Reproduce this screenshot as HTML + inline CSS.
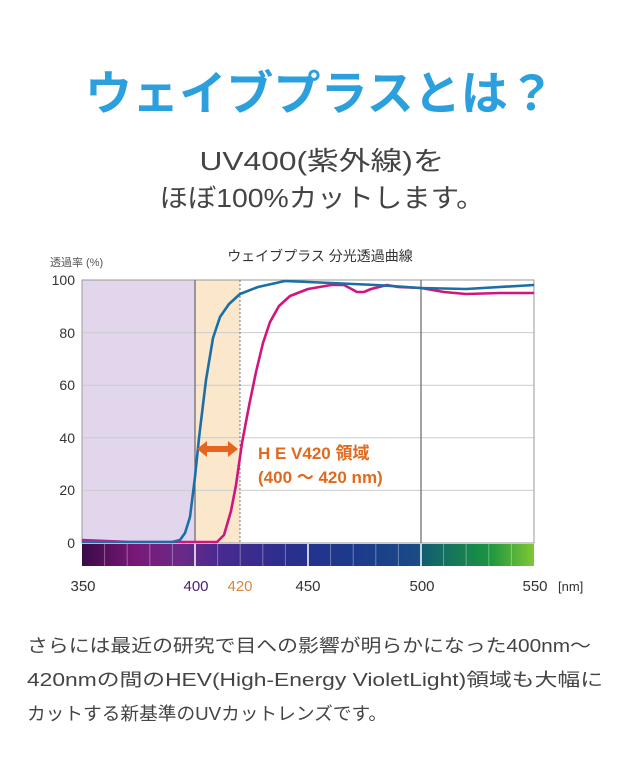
<!DOCTYPE html>
<html><head><meta charset="utf-8"><style>
html,body{margin:0;padding:0;background:#fff;}
svg{display:block;}
text{font-family:"Liberation Sans","Noto Sans CJK JP",sans-serif;}
</style></head><body>
<svg width="640" height="778" viewBox="0 0 640 778" xmlns="http://www.w3.org/2000/svg">
<defs>
<linearGradient id="spec" x1="0" x2="1" y1="0" y2="0">
<stop offset="0" stop-color="#3a0a48"/>
<stop offset="0.12" stop-color="#7a1878"/>
<stop offset="0.22" stop-color="#6a2a88"/>
<stop offset="0.3" stop-color="#4a2a90"/>
<stop offset="0.45" stop-color="#2a2e8e"/>
<stop offset="0.6" stop-color="#1c3a8c"/>
<stop offset="0.74" stop-color="#1a4a86"/>
<stop offset="0.76" stop-color="#12606e"/>
<stop offset="0.9" stop-color="#1a9440"/>
<stop offset="1" stop-color="#80c834"/>
</linearGradient>
</defs>
<text x="320" y="110" text-anchor="middle" font-size="47" font-weight="bold" fill="#2ba0dc" textLength="470" lengthAdjust="spacingAndGlyphs">ウェイブプラスとは？</text>
<text x="322" y="170" text-anchor="middle" font-size="26" fill="#444" textLength="245" lengthAdjust="spacingAndGlyphs">UV400(紫外線)を</text>
<text x="322" y="207" text-anchor="middle" font-size="26" fill="#444" textLength="325" lengthAdjust="spacingAndGlyphs">ほぼ100%カットします。</text>

<text x="320" y="261" text-anchor="middle" font-size="14" fill="#333">ウェイブプラス 分光透過曲線</text>
<text x="50" y="266" font-size="11" fill="#555">透過率 (%)</text>

<rect x="82" y="280" width="113" height="263" fill="#e2d6ec"/>
<rect x="195" y="280" width="45" height="263" fill="#fbe7cb"/>
<g stroke="#ccc" stroke-width="1">
<line x1="82" y1="332.6" x2="534" y2="332.6"/>
<line x1="82" y1="385.2" x2="534" y2="385.2"/>
<line x1="82" y1="437.8" x2="534" y2="437.8"/>
<line x1="82" y1="490.4" x2="534" y2="490.4"/>
</g>
<rect x="82" y="280" width="452" height="263" fill="none" stroke="#999" stroke-width="1"/>
<line x1="195" y1="280" x2="195" y2="543" stroke="#666" stroke-width="1.2"/>
<line x1="421" y1="280" x2="421" y2="543" stroke="#666" stroke-width="1.2"/>
<line x1="240" y1="280" x2="240" y2="543" stroke="#777" stroke-width="1" stroke-dasharray="2,2"/>

<g font-size="14" fill="#333" text-anchor="end">
<text x="75" y="285">100</text><text x="75" y="338">80</text><text x="75" y="390">60</text>
<text x="75" y="443">40</text><text x="75" y="495">20</text><text x="75" y="548">0</text>
</g>

<polyline fill="none" stroke="#d0167e" stroke-width="2.6" stroke-linejoin="round" points="82,540 130,542 217,542 224,535 231,511 236,485 242,443 249,406 256,372 263,343 270,322 279,306 290,296 308,289 331,285 344,285 357,292 364,292 371,289 387,285 398,287 421,288 444,292 466,294 500,293 534,293"/>
<polyline fill="none" stroke="#1a6fa6" stroke-width="2.6" stroke-linejoin="round" points="82,542 172,542 180,540 185,533 190,517 195,477 199,438 206,380 213,338 220,317 229,304 240,294 258,287 285,281 331,283 376,285 421,288 466,289 534,285"/>

<path d="M197,449 L207,441 L207,446 L228,446 L228,441 L238,449 L228,457 L228,452 L207,452 L207,457 Z" fill="#e5641e"/>
<text x="258" y="459" font-size="17" font-weight="bold" fill="#e06a1e">H E V420 領域</text>
<text x="258" y="483" font-size="17" font-weight="bold" fill="#e06a1e">(400 ～ 420 nm)</text>

<rect x="82" y="544" width="452" height="22" fill="url(#spec)"/>
<g stroke="#ffffff" stroke-opacity="0.35" stroke-width="1">
<line x1="104.6" y1="544" x2="104.6" y2="566"/><line x1="127.2" y1="544" x2="127.2" y2="566"/><line x1="149.8" y1="544" x2="149.8" y2="566"/><line x1="172.4" y1="544" x2="172.4" y2="566"/><line x1="217.6" y1="544" x2="217.6" y2="566"/><line x1="240.2" y1="544" x2="240.2" y2="566"/><line x1="262.8" y1="544" x2="262.8" y2="566"/><line x1="285.4" y1="544" x2="285.4" y2="566"/><line x1="330.6" y1="544" x2="330.6" y2="566"/><line x1="353.2" y1="544" x2="353.2" y2="566"/><line x1="375.8" y1="544" x2="375.8" y2="566"/><line x1="398.4" y1="544" x2="398.4" y2="566"/><line x1="443.6" y1="544" x2="443.6" y2="566"/><line x1="466.2" y1="544" x2="466.2" y2="566"/><line x1="488.8" y1="544" x2="488.8" y2="566"/><line x1="511.4" y1="544" x2="511.4" y2="566"/>
</g>
<g stroke="#ffffff" stroke-width="1.5">
<line x1="195" y1="544" x2="195" y2="566"/><line x1="308" y1="544" x2="308" y2="566"/><line x1="421" y1="544" x2="421" y2="566"/>
</g>

<g font-size="15" text-anchor="middle">
<text x="83" y="591" fill="#333">350</text>
<text x="196" y="591" fill="#4a1f6e">400</text>
<text x="240" y="591" fill="#d4883c">420</text>
<text x="308" y="591" fill="#333">450</text>
<text x="422" y="591" fill="#333">500</text>
<text x="535" y="591" fill="#333">550</text>
</g>
<text x="558" y="591" font-size="13" fill="#333">[nm]</text>

<g font-size="18" fill="#444">
<text x="27" y="652" textLength="564" lengthAdjust="spacingAndGlyphs">さらには最近の研究で目への影響が明らかになった400nm～</text>
<text x="27" y="686" textLength="576" lengthAdjust="spacingAndGlyphs">420nmの間のHEV(High-Energy VioletLight)領域も大幅に</text>
<text x="27" y="720" textLength="360" lengthAdjust="spacingAndGlyphs">カットする新基準のUVカットレンズです。</text>
</g>
</svg>
</body></html>
